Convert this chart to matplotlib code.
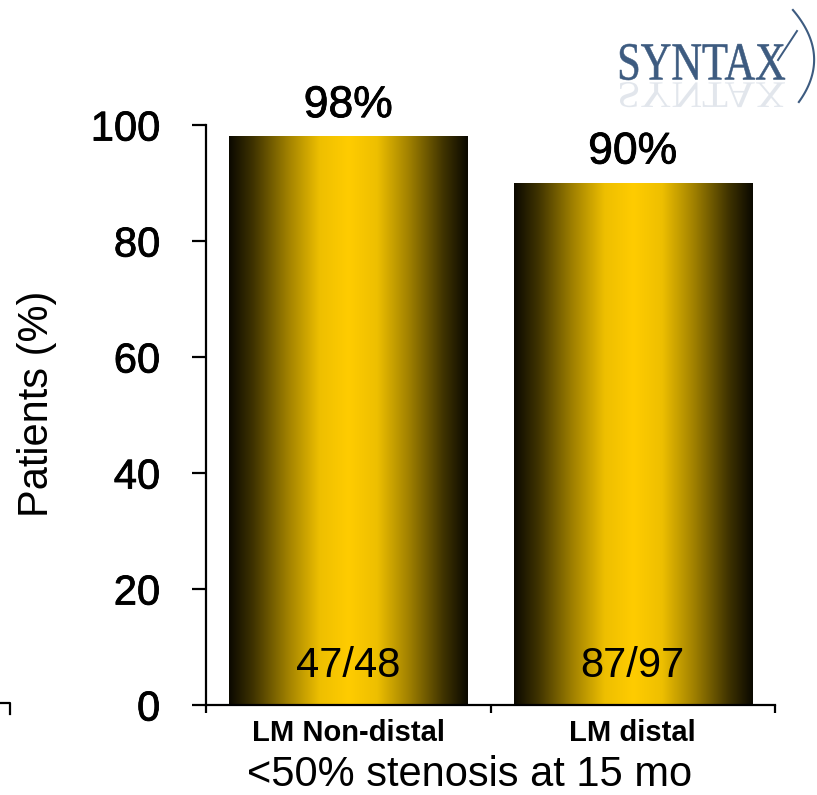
import numpy as np
import matplotlib
matplotlib.use("Agg")
import matplotlib.pyplot as plt
import matplotlib.patheffects as pe
from matplotlib.colors import LinearSegmentedColormap
from matplotlib.textpath import TextPath
from matplotlib.font_manager import FontProperties
from matplotlib.patches import PathPatch
from matplotlib.transforms import Affine2D, IdentityTransform
from matplotlib.lines import Line2D

# Data
categories = ["LM Non-distal", "LM distal"]
percent = [98, 90]
counts = ["47/48", "87/97"]
yticks = [0, 20, 40, 60, 80, 100]

plt.rcParams["font.family"] = ["Liberation Sans", "DejaVu Sans"]

W, H = 817, 795
fig = plt.figure(figsize=(W / 100, H / 100), dpi=100)
ax = fig.add_axes([206 / W, (H - 705) / H, 569 / W, 580 / H])

heavy = [pe.withStroke(linewidth=0.6, foreground="black")]

# Horizontal metallic gold gradient for the bars
gold = LinearSegmentedColormap.from_list(
    "gold",
    [(0.00, "#0b0900"), (0.10, "#3f3300"), (0.25, "#a38300"),
     (0.38, "#eebf00"), (0.50, "#ffcc00"), (0.62, "#eebf00"),
     (0.75, "#a38300"), (0.90, "#3f3300"), (1.00, "#0b0900")])
grad = np.linspace(0, 1, 256).reshape(1, -1)

x = np.arange(len(categories))
bars = ax.bar(x, percent, width=0.837, color="none", edgecolor="none", zorder=2)
for b in bars:
    x0, w, h = b.get_x(), b.get_width(), b.get_height()
    ax.imshow(grad, cmap=gold, extent=[x0, x0 + w, 0, h], aspect="auto",
              interpolation="bicubic", zorder=1)

# Value labels above bars and counts inside bars
for xi, p, c in zip(x, percent, counts):
    ax.annotate(f"{p}%", xy=(xi, p), xytext=(0, 14), textcoords="offset points",
                ha="center", va="baseline", fontsize=32, path_effects=heavy)
    ax.annotate(c, xy=(xi, 0), xytext=(0, 20), textcoords="offset points",
                ha="center", va="baseline", fontsize=30)

ax.set_xlim(-0.5, 1.5)
ax.set_ylim(0, 100)
ax.set_yticks(yticks)
ax.set_yticklabels([str(v) for v in yticks], fontsize=30)
for lab in ax.get_yticklabels():
    lab.set_path_effects(heavy)
ax.set_xticks(x)
ax.set_xticklabels(categories, fontsize=21, fontweight="bold")
ax.set_xticks([-0.5, 0.5, 1.5], minor=True)

for s in ["top", "right"]:
    ax.spines[s].set_visible(False)
for s in ["left", "bottom"]:
    ax.spines[s].set_linewidth(1.6)
ax.tick_params(axis="y", direction="out", length=10, width=1.6, pad=23)
ax.tick_params(axis="x", which="major", length=0, pad=10)
ax.tick_params(axis="x", which="minor", direction="out", length=6, width=1.6)
ax.set_ylabel("Patients (%)", fontsize=30)
ax.yaxis.set_label_coords(-0.262, 0.52)

fig.text(470 / W, (H - 775) / H, "<50% stenosis at 15 mo", fontsize=30,
         ha="center", va="center")

# Small corner mark at lower left
fig.add_artist(Line2D([0, 10, 10], [H - 703, H - 703, H - 714], color="black",
                      lw=1.6, transform=IdentityTransform()))

# SYNTAX logo with reflection
blue = "#3d5b80"
fp = FontProperties(family="Liberation Serif")
tp = TextPath((0, 0), "SYNTAX", size=1, prop=fp)
ext = tp.get_extents()
sx = 165 / ext.width
sy = 36 / ext.height
logo = Affine2D().translate(-ext.x0, -ext.y0).scale(sx, sy).translate(620, H - 80)
fig.add_artist(PathPatch(logo.transform_path(tp), facecolor=blue, edgecolor=blue,
                         lw=0.4, transform=IdentityTransform()))
refl = Affine2D().translate(-ext.x0, -ext.y0).scale(sx, -sy * 0.7).translate(620, H - 82)
fig.add_artist(PathPatch(refl.transform_path(tp), facecolor="#cbd3de",
                         edgecolor="none", alpha=0.55, transform=IdentityTransform()))
arc_y = np.array([10, 50, 83, 100])
arc_x = np.array([793, 813, 810, 800])
coef = np.polyfit(arc_y, arc_x, 2)
yy = np.linspace(10, 102, 60)
fig.add_artist(Line2D(np.polyval(coef, yy), H - yy, color=blue, lw=1.5,
                      transform=IdentityTransform()))
fig.add_artist(Line2D([778, 797], [H - 60, H - 31], color=blue, lw=1.4,
                      transform=IdentityTransform()))

fig.savefig("out.png", dpi=100)
